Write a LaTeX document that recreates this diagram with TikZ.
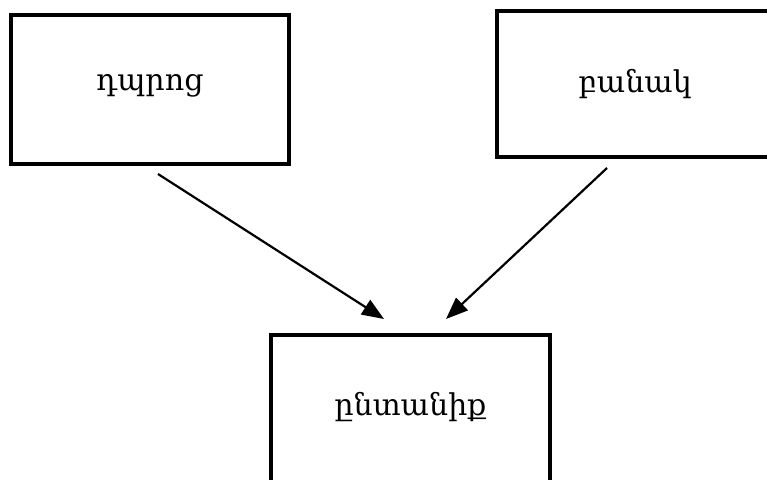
\documentclass[tikz,border=0pt]{standalone}
\usepackage{fontspec}
\newfontfamily\armfont{DejaVu Serif}
\usetikzlibrary{arrows.meta, positioning}

\begin{document}
\begin{tikzpicture}[x=1pt, y=-1pt,
    box/.style={draw, line width=3.2pt, inner sep=0pt, font=\armfont\fontsize{30}{32}\selectfont},
    link/.style={line width=2.2pt, -{Triangle[length=22pt, width=17pt]}}]
  \useasboundingbox (0,0) rectangle (767,479);
  \clip (0,0) rectangle (767,479);

  % Boxes
  \node[box, anchor=base, minimum width=278pt, text height=75pt, text depth=74pt] (school) at (150, 90) {դպրոց};
  \node[box, anchor=base, minimum width=276pt, text height=81pt, text depth=65pt] (army) at (635, 92) {բանակ};
  \node[box, anchor=base, minimum width=279pt, text height=80pt, text depth=80pt] (family) at (410.5, 415) {ընտանիք};

  % Arrow ends
  \coordinate (school-out) at (158, 174);
  \coordinate (army-out) at (607, 168);
  \coordinate (family-inl) at (384, 319);
  \coordinate (family-inr) at (446, 319);

  % Arrows into the bottom box
  \draw[link] (school-out) -- (family-inl);
  \draw[link] (army-out) -- (family-inr);
\end{tikzpicture}
\end{document}
